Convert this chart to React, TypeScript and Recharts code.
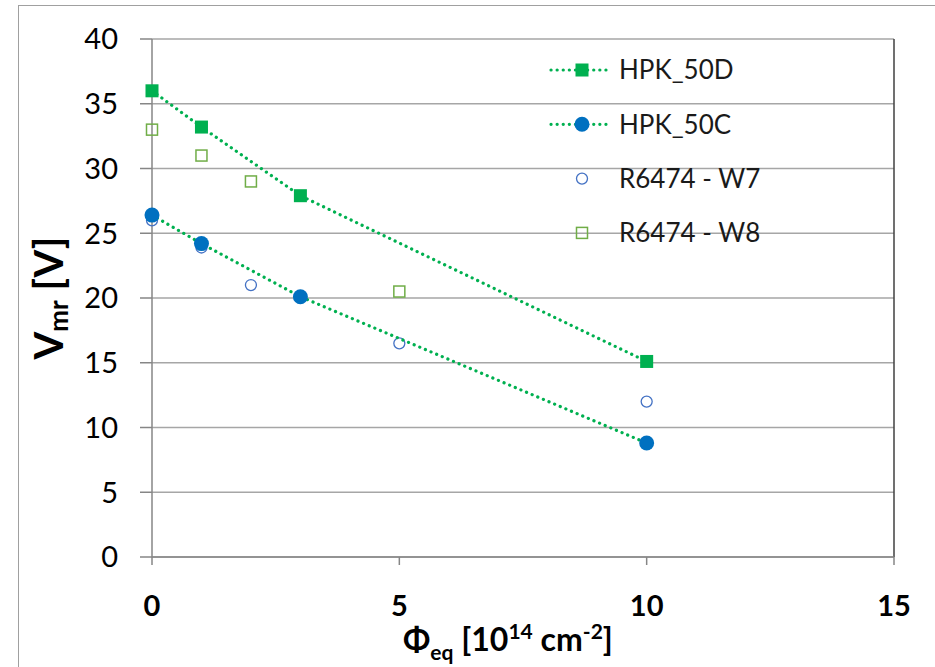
import React from "react";
import {
  ScatterChart,
  Scatter,
  XAxis,
  YAxis,
  CartesianGrid,
  ReferenceLine,
  Label,
} from "recharts";

// fluence [1e14 cm-2] vs V_mr [V]
const hpk50dX = [0, 1, 3, 10];
const hpk50dY = [36.0, 33.2, 27.9, 15.1];
const hpk50cX = [0, 1, 3, 10];
const hpk50cY = [26.4, 24.2, 20.1, 8.8];
const w7X = [0, 1, 2, 5, 10];
const w7Y = [26.0, 23.9, 21.0, 16.5, 12.0];
const w8X = [0, 1, 2, 5];
const w8Y = [33.0, 31.0, 29.0, 20.5];

const xTicks = [0, 5, 10, 15];
const yTicks = [0, 5, 10, 15, 20, 25, 30, 35, 40];

const zip = (xs: number[], ys: number[]) => xs.map((x, i) => ({ x, y: ys[i] }));

const FONT = "Lato, 'Liberation Sans', sans-serif";
const GREEN = "#00B050";
const BLUE = "#0070C0";
const OPEN_BLUE = "#4472C4";
const OPEN_GREEN = "#70AD47";
const GRID = "#a6a6a6";

const FilledSquare = (p: any) => (
  <rect x={p.cx - 6.5} y={p.cy - 6.5} width={13} height={13} fill={GREEN} />
);
const FilledCircle = (p: any) => <circle cx={p.cx} cy={p.cy} r={7.5} fill={BLUE} />;
const OpenCircle = (p: any) => (
  <circle cx={p.cx} cy={p.cy} r={5.5} fill="none" stroke={OPEN_BLUE} strokeWidth={1.3} />
);
const OpenSquare = (p: any) => (
  <rect x={p.cx - 5.5} y={p.cy - 5.5} width={11} height={11} fill="none" stroke={OPEN_GREEN} strokeWidth={1.5} />
);

const dotted = { stroke: GREEN, strokeWidth: 3.2, strokeDasharray: "0.1 6", strokeLinecap: "round" as const };

const legendItems = [
  { name: "HPK_50D", line: true, marker: (cx: number, cy: number) => <FilledSquare cx={cx} cy={cy} /> },
  { name: "HPK_50C", line: true, marker: (cx: number, cy: number) => <FilledCircle cx={cx} cy={cy} /> },
  { name: "R6474 - W7", line: false, marker: (cx: number, cy: number) => <OpenCircle cx={cx} cy={cy} /> },
  { name: "R6474 - W8", line: false, marker: (cx: number, cy: number) => <OpenSquare cx={cx} cy={cy} /> },
];

// legend drawn as an overlay so it doesn't eat plot space
const LegendBox = () => (
  <svg
    width={240}
    height={210}
    style={{ position: "absolute", left: 540, top: 50, overflow: "visible" }}
  >
    {legendItems.map((it, i) => {
      const cy = 20 + i * 54.3;
      return (
        <g key={it.name}>
          {it.line && <line x1={11} x2={67} y1={cy} y2={cy} {...dotted} />}
          {it.marker(42, cy)}
          <text x={79} y={cy} dy="0.36em" fontSize={26} fontFamily={FONT} fill="#1a1a1a">
            {it.name}
          </text>
        </g>
      );
    })}
  </svg>
);

const YTitle = (props: any) => {
  const vb = props.viewBox;
  const cy = vb.y + vb.height / 2;
  return (
    <text
      x={48}
      y={cy}
      transform={`rotate(-90 48 ${cy})`}
      textAnchor="middle"
      dominantBaseline="central"
      fontFamily={FONT}
      fontWeight="bold"
      fontSize={40}
      fill="#000"
    >
      V<tspan fontSize={26} dy={10}>mr</tspan>
      <tspan dy={-10}> [V]</tspan>
    </text>
  );
};

const XTitle = () => (
  <text x={508} y={651} textAnchor="middle" fontFamily={FONT} fontWeight="bold" fontSize={32} fill="#000">
    Φ<tspan fontSize={21} dy={9}>eq</tspan>
    <tspan dy={-9}> [10</tspan>
    <tspan fontSize={21} dy={-12}>14</tspan>
    <tspan dy={12}> cm</tspan>
    <tspan fontSize={21} dy={-12}>-2</tspan>
    <tspan dy={12}>]</tspan>
  </text>
);

export default function App() {
  return (
    <div style={{ position: "absolute", left: 0, top: 0, width: 935, height: 667, background: "#fff", overflow: "hidden" }}>
      <div
        style={{
          position: "absolute",
          left: 18,
          top: 5,
          width: 940,
          height: 700,
          borderTop: "1.5px solid #a0a0a0",
          borderLeft: "1.5px solid #a0a0a0",
        }}
      />
      <ScatterChart
        width={935}
        height={667}
        margin={{ top: 39, right: 41, bottom: 0, left: 0 }}
        style={{ position: "absolute", left: 0, top: 0 }}
      >
        <CartesianGrid vertical={false} stroke={GRID} strokeWidth={1.5} />
        <XAxis
          type="number"
          dataKey="x"
          domain={[0, 15]}
          ticks={xTicks}
          height={110}
          tickSize={8}
          tickMargin={30}
          axisLine={{ stroke: "#868686", strokeWidth: 1.5 }}
          tickLine={{ stroke: "#868686", strokeWidth: 1.5 }}
          tick={{ fontSize: 29, fontWeight: "bold", fontFamily: FONT, fill: "#000" }}
          interval={0}
        >
          <Label content={<XTitle />} />
        </XAxis>
        <YAxis
          type="number"
          dataKey="y"
          domain={[0, 40]}
          ticks={yTicks}
          width={152}
          tickSize={12}
          tickMargin={22}
          axisLine={{ stroke: "#868686", strokeWidth: 1.5 }}
          tickLine={{ stroke: "#868686", strokeWidth: 1.5 }}
          tick={{ fontSize: 29, fontFamily: FONT, fill: "#000" }}
          interval={0}
        >
          <Label content={<YTitle />} />
        </YAxis>
        <ReferenceLine x={15} stroke="#404040" strokeWidth={1.5} />
        <Scatter name="R6474 - W8" data={zip(w8X, w8Y)} shape={<OpenSquare />} isAnimationActive={false} />
        <Scatter name="R6474 - W7" data={zip(w7X, w7Y)} shape={<OpenCircle />} isAnimationActive={false} />
        <Scatter
          name="HPK_50D"
          data={zip(hpk50dX, hpk50dY)}
          line={dotted}
          lineType="joint"
          shape={<FilledSquare />}
          isAnimationActive={false}
        />
        <Scatter
          name="HPK_50C"
          data={zip(hpk50cX, hpk50cY)}
          line={dotted}
          lineType="joint"
          shape={<FilledCircle />}
          isAnimationActive={false}
        />
      </ScatterChart>
      <LegendBox />
    </div>
  );
}
